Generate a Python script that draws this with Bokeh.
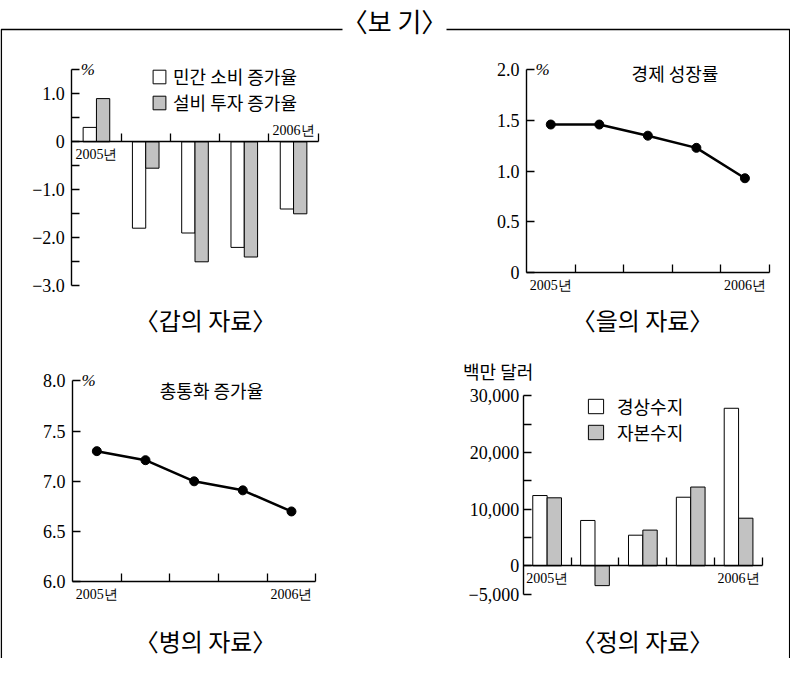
import numpy as np
from bokeh.plotting import figure
from bokeh.models import Range1d, LinearAxis, FixedTicker, Legend, LegendItem
from bokeh.core.properties import value
from bokeh.embed import file_html
from bokeh.resources import INLINE

# ---------------- data ----------------
year_labels = ["2005년", "2006년"]
n_periods = 5

consumption_growth = [0.3, -1.8, -1.9, -2.2, -1.4]      # 민간 소비 증가율 (%)
investment_growth = [0.9, -0.55, -2.5, -2.4, -1.5]      # 설비 투자 증가율 (%)
gdp_growth = [1.46, 1.46, 1.35, 1.23, 0.93]             # 경제 성장률 (%)
money_growth = [7.3, 7.21, 7.0, 6.91, 6.7]              # 총통화 증가율 (%)
current_account = [12400, 8000, 5400, 12100, 27800]     # 경상수지 (백만 달러)
capital_account = [12000, -3500, 6300, 13900, 8400]     # 자본수지 (백만 달러)

p1_ticks = [-3.0, -2.0, -1.0, 0.0, 1.0]
p1_tick_labels = ["−3.0", "−2.0", "−1.0", "0", "1.0"]
p1_minor = [-2.5, -1.5, -0.5, 0.5, 1.5]
p2_ticks = [0.0, 0.5, 1.0, 1.5, 2.0]
p2_tick_labels = ["0", "0.5", "1.0", "1.5", "2.0"]
p3_ticks = [6.0, 6.5, 7.0, 7.5, 8.0]
p3_tick_labels = ["6.0", "6.5", "7.0", "7.5", "8.0"]
p4_ticks = [-5000.0, 0.0, 10000.0, 20000.0, 30000.0]
p4_tick_labels = ["−5,000", "0", "10,000", "20,000", "30,000"]
p4_minor = [5000.0, 15000.0, 25000.0]

box_title = "〈보 기〉"
captions = ["〈갑의 자료〉", "〈을의 자료〉", "〈병의 자료〉", "〈정의 자료〉"]
p1_series = ["민간 소비 증가율", "설비 투자 증가율"]
p2_title = "경제 성장률"
p3_title = "총통화 증가율"
p4_series = ["경상수지", "자본수지"]
p4_unit = "백만 달러"
pct = "%"

# ---------------- layout ----------------
FIG_W, FIG_H = 790, 658
LEFT, TOP = 8, 8
KFONT = "Noto Sans CJK KR"
NFONT = "'Liberation Serif'"
GREY = "#c2c2c2"

p = figure(width=FIG_W, height=FIG_H,
           x_range=Range1d(LEFT, LEFT + FIG_W), y_range=Range1d(TOP + FIG_H, TOP),
           x_axis_type=None, y_axis_type=None, output_backend="svg",
           toolbar_location=None, min_border=0)
p.outline_line_color = None
p.background_fill_color = "white"
p.border_fill_color = "white"


def panel(name, x_px, y_vals, y_px):
    X0, X1 = x_px
    kx = n_periods / (X1 - X0)
    p.extra_x_ranges[name] = Range1d(start=(LEFT - X0) * kx, end=(LEFT + FIG_W - X0) * kx)
    (v0, v1), (Y0, Y1) = y_vals, y_px
    ky = (v1 - v0) / (Y1 - Y0)
    p.extra_y_ranges[name] = Range1d(start=v0 + (TOP + FIG_H - Y0) * ky, end=v0 + (TOP - Y0) * ky)


def style(ax, size, standoff):
    ax.axis_line_color = "black"
    ax.axis_line_width = 1.4
    ax.major_tick_line_color = "black"
    ax.minor_tick_line_color = "black"
    ax.major_tick_line_width = 1.3
    ax.minor_tick_line_width = 1.3
    ax.major_label_text_font = NFONT
    ax.major_label_text_font_size = size
    ax.major_label_text_color = "black"
    ax.major_label_standoff = standoff


def y_axis(name, lo, hi, ticks, labels, minor, standoff):
    ax = LinearAxis(x_range_name=name, y_range_name=name, fixed_location=0, bounds=(lo, hi),
                    ticker=FixedTicker(ticks=ticks, minor_ticks=minor),
                    major_label_overrides={float(t): l for t, l in zip(ticks, labels)})
    style(ax, "18px", standoff)
    ax.major_tick_in, ax.major_tick_out = 8, 0
    ax.minor_tick_in, ax.minor_tick_out = 8, 0
    p.add_layout(ax, "left")


def x_axis(name, cross, below_idx, above_idx=()):
    centers = [i + 0.5 for i in range(n_periods)]
    ends = [0, n_periods - 1]
    bt = [centers[i] for i in below_idx]
    bl = [year_labels[k] for k in range(len(year_labels)) if ends[k] in below_idx]
    ax = LinearAxis(x_range_name=name, y_range_name=name, fixed_location=cross, bounds=(0, n_periods),
                    ticker=FixedTicker(ticks=bt, minor_ticks=list(range(1, n_periods + 1))),
                    major_label_overrides={float(t): l for t, l in zip(bt, bl)})
    style(ax, "14px", 5)
    ax.major_tick_in, ax.major_tick_out = 0, 0
    ax.minor_tick_in, ax.minor_tick_out = 8, 0
    p.add_layout(ax, "below")
    if above_idx:
        at = [centers[i] for i in above_idx]
        al = [year_labels[k] for k in range(len(year_labels)) if ends[k] in above_idx]
        ax2 = LinearAxis(x_range_name=name, y_range_name=name, fixed_location=cross, bounds=(0, n_periods),
                         ticker=FixedTicker(ticks=at),
                         major_label_overrides={float(t): l for t, l in zip(at, al)})
        style(ax2, "14px", 4)
        ax2.axis_line_color = None
        ax2.major_tick_in, ax2.major_tick_out = 0, 0
        ax2.minor_tick_line_color = None
        p.add_layout(ax2, "above")


def pct_label(name, ytop):
    p.text(x=[0], y=[ytop], text=[pct], x_offset=9, text_baseline="middle",
           text_font=value(NFONT), text_font_style="italic", text_font_size="17px",
           text_color="black", x_range_name=name, y_range_name=name)


centers = np.arange(n_periods) + 0.5

# ---- panel 1: 갑 ----
panel("a", (79.3, 325.7), (0.0, 1.0), (149.3, 101.3))
w1 = 0.27
ra = p.vbar(x=centers - w1 / 2, top=consumption_growth, bottom=0, width=w1, fill_color="white",
            line_color="black", line_width=1, x_range_name="a", y_range_name="a")
rb = p.vbar(x=centers + w1 / 2, top=investment_growth, bottom=0, width=w1, fill_color=GREY,
            line_color="black", line_width=1, x_range_name="a", y_range_name="a")
y_axis("a", -3.0, 1.5, p1_ticks, p1_tick_labels, p1_minor, 7)
x_axis("a", 0.0, (0,), (n_periods - 1,))
pct_label("a", 1.5)
leg1 = Legend(items=[LegendItem(label=p1_series[0], renderers=[ra]),
                     LegendItem(label=p1_series[1], renderers=[rb])],
              location=(151, 543), orientation="vertical", border_line_color=None,
              background_fill_alpha=0, padding=0, margin=0, spacing=0,
              glyph_width=16, glyph_height=17, label_standoff=6,
              label_text_font=KFONT, label_text_font_size="18px", label_text_color="black")
p.add_layout(leg1)

# ---- panel 2: 을 ----
panel("b", (534.0, 776.7), (0.0, 2.0), (280.0, 77.3))
p.line(centers, gdp_growth, line_width=2.5, line_color="black", x_range_name="b", y_range_name="b")
p.scatter(centers, gdp_growth, size=9, color="black", x_range_name="b", y_range_name="b")
y_axis("b", 0.0, 2.0, p2_ticks, p2_tick_labels, [], 7)
x_axis("b", 0.0, (0, n_periods - 1))
pct_label("b", 2.0)

# ---- panel 3: 병 ----
panel("c", (80.0, 323.3), (6.0, 8.0), (589.3, 388.3))
p.line(centers, money_growth, line_width=2.5, line_color="black", x_range_name="c", y_range_name="c")
p.scatter(centers, money_growth, size=9, color="black", x_range_name="c", y_range_name="c")
y_axis("c", 6.0, 8.0, p3_ticks, p3_tick_labels, [], 7)
x_axis("c", 6.0, (0, n_periods - 1))
pct_label("c", 8.0)

# ---- panel 4: 정 ----
panel("d", (530.7, 770.0), (0.0, 30000.0), (573.3, 403.3))
w4 = 0.30
rc = p.vbar(x=centers - w4 / 2, top=current_account, bottom=0, width=w4, fill_color="white",
            line_color="black", line_width=1, x_range_name="d", y_range_name="d")
rd = p.vbar(x=centers + w4 / 2, top=capital_account, bottom=0, width=w4, fill_color=GREY,
            line_color="black", line_width=1, x_range_name="d", y_range_name="d")
y_axis("d", -5000.0, 30000.0, p4_ticks, p4_tick_labels, p4_minor, 4)
x_axis("d", 0.0, (0, n_periods - 1))
leg4 = Legend(items=[LegendItem(label=p4_series[0], renderers=[rc]),
                     LegendItem(label=p4_series[1], renderers=[rd])],
              location=(586, 213), orientation="vertical", border_line_color=None,
              background_fill_alpha=0, padding=0, margin=0, spacing=0,
              glyph_width=19, glyph_height=18, label_standoff=12,
              label_text_font=KFONT, label_text_font_size="18px", label_text_color="black")
p.add_layout(leg4)
p.text(x=[0], y=[30000.0], text=[p4_unit], x_offset=-25, y_offset=-25, text_align="center",
       text_baseline="middle", text_font=value(KFONT), text_font_size="18px", text_color="black",
       x_range_name="d", y_range_name="d")

# ---- chart titles ----
p.text(x=[682.5, 219.0], y=[80.5, 397.5], text=[p2_title, p3_title], text_align="center",
       text_baseline="middle", text_font=value(KFONT), text_font_size="18px", text_color="black")

# ---- captions ----
p.text(x=[213, 650, 213, 650], y=[327, 327, 648, 648], text=captions, text_align="center",
       text_baseline="middle", text_font=value(KFONT), text_font_size="24px", text_color="black")

# ---- outer box with title ----
p.line(x=[8.8, 8.8, 350], y=[TOP + FIG_H, 37, 37], line_color="black", line_width=1.5)
p.line(x=[454, 797.2, 797.2], y=[37, 37, TOP + FIG_H], line_color="black", line_width=1.5)
p.text(x=[402], y=[28], text=[box_title], text_align="center", text_baseline="middle",
       text_font=value(KFONT), text_font_size="26px", text_color="black")

open("out.html", "w").write(file_html(p, INLINE))
